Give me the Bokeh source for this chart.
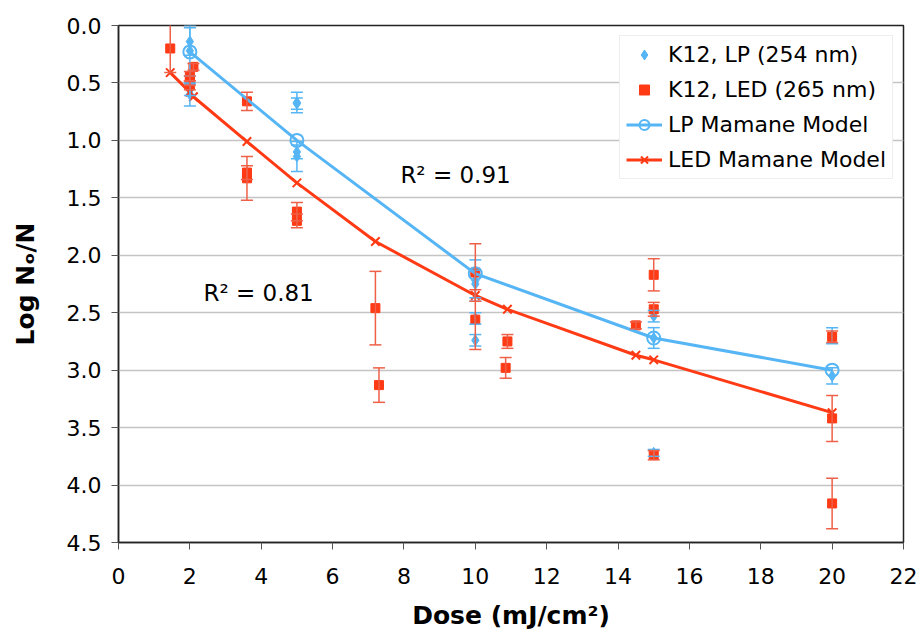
from bokeh.plotting import figure
from bokeh.models import (ColumnDataSource, Range1d, FixedTicker, NumeralTickFormatter,
                          Whisker, TeeHead, Legend, LegendItem)
from bokeh.core.properties import value
from bokeh.embed import file_html
from bokeh.resources import INLINE

# ---- data ----
lp_x = [2, 2, 2, 2, 5, 5, 5, 5, 10, 10, 10, 10, 15, 15, 15, 20, 20]
lp_y = [0.14, 0.22, 0.56, 0.60, 0.67, 0.68, 1.10, 1.14, 2.22, 2.25, 2.55, 2.74,
        2.53, 2.72, 3.72, 2.70, 3.05]
lp_err = [0.12, 0.22, 0.05, 0.10, 0.09, 0.05, 0.06, 0.13, 0.18, 0.12, 0.05, 0.05,
          0.05, 0.09, 0.03, 0.07, 0.07]

led_x = [1.45, 2.0, 2.0, 2.0, 2.1, 3.6, 3.6, 3.6, 5.0, 5.0, 7.2, 7.3, 10.0, 10.0,
         10.9, 10.85, 14.5, 15.0, 15.0, 15.0, 20.0, 20.0, 20.0]
led_y = [0.20, 0.44, 0.48, 0.52, 0.36, 0.66, 1.28, 1.33, 1.62, 1.70, 2.46, 3.13,
         2.15, 2.56, 2.75, 2.98, 2.61, 2.17, 2.47, 3.74, 2.71, 3.42, 4.16]
led_err = [0.21, 0.04, 0.04, 0.04, 0.03, 0.08, 0.06, 0.19, 0.08, 0.06, 0.32, 0.15,
           0.25, 0.26, 0.06, 0.09, 0.03, 0.14, 0.06, 0.04, 0.05, 0.20, 0.22]

lp_model_x = [2, 5, 10, 15, 20]
lp_model_y = [0.23, 1.00, 2.16, 2.72, 3.00]

led_model_x = [1.45, 2.0, 2.1, 3.6, 5.0, 7.2, 10.0, 10.9, 14.5, 15.0, 20.0]
led_model_y = [0.41, 0.58, 0.62, 1.01, 1.37, 1.88, 2.35, 2.47, 2.87, 2.91, 3.37]

x_ticks = list(range(0, 23, 2))
y_ticks = [0.0, 0.5, 1.0, 1.5, 2.0, 2.5, 3.0, 3.5, 4.0, 4.5]

r2_labels = ["R² = 0.91", "R² = 0.81"]
r2_x = [7.9, 2.38]
r2_y = [1.30, 2.33]

# ---- styles ----
BLUE = "#55B5F5"
RED = "#FF3A14"
RED_ERR = "#EE6048"
FONT = "DejaVu Sans"

p = figure(width=917, height=632, x_range=Range1d(0, 22), y_range=Range1d(4.5, 0),
           output_backend="svg", toolbar_location=None,
           min_border_left=118, min_border_right=14, min_border_top=25,
           min_border_bottom=89, background_fill_color="white",
           border_fill_color="white")

p.outline_line_color = "#222222"
p.outline_line_width = 1.5
p.xgrid.visible = False
p.ygrid.grid_line_color = "#C4C4C4"
p.ygrid.grid_line_width = 1.5

for ax in (p.xaxis[0], p.yaxis[0]):
    ax.axis_line_color = "#222222"
    ax.axis_line_width = 1.5
    ax.major_tick_line_color = "#555555"
    ax.major_tick_in = 0
    ax.major_tick_out = 7
    ax.minor_tick_line_color = None
    ax.major_label_text_font = FONT
    ax.major_label_text_font_size = "22px"
    ax.major_label_text_color = "black"
    ax.axis_label_text_font = FONT
    ax.axis_label_text_font_style = "bold"
    ax.axis_label_text_font_size = "25px"
    ax.axis_label_text_color = "black"

p.xaxis.ticker = FixedTicker(ticks=x_ticks)
p.yaxis.ticker = FixedTicker(ticks=y_ticks)
p.yaxis.formatter = NumeralTickFormatter(format="0.0")
p.xaxis.axis_label = "Dose (mJ/cm²)"
p.yaxis.axis_label = "Log Nₒ/N"
p.xaxis.major_label_standoff = 18
p.xaxis.axis_label_standoff = 14
p.yaxis.major_label_standoff = 10
p.yaxis.axis_label_standoff = 24

# error bars
lp_src = ColumnDataSource(dict(x=lp_x, y=lp_y,
                               upper=[a + b for a, b in zip(lp_y, lp_err)],
                               lower=[a - b for a, b in zip(lp_y, lp_err)]))
led_src = ColumnDataSource(dict(x=led_x, y=led_y,
                                upper=[a + b for a, b in zip(led_y, led_err)],
                                lower=[a - b for a, b in zip(led_y, led_err)]))

p.add_layout(Whisker(source=lp_src, base="x", upper="upper", lower="lower",
                     line_color=BLUE, line_width=1.5, level="glyph",
                     upper_head=TeeHead(size=12, line_color=BLUE, line_width=1.5),
                     lower_head=TeeHead(size=12, line_color=BLUE, line_width=1.5)))
lp_pts = p.scatter("x", "y", source=lp_src, marker="diamond", size=11,
                   fill_color=BLUE, line_color=BLUE)

p.add_layout(Whisker(source=led_src, base="x", upper="upper", lower="lower",
                     line_color=RED_ERR, line_width=1.5, level="glyph",
                     upper_head=TeeHead(size=12, line_color=RED_ERR, line_width=1.5),
                     lower_head=TeeHead(size=12, line_color=RED_ERR, line_width=1.5)))
led_pts = p.scatter("x", "y", source=led_src, marker="square", size=9,
                    fill_color=RED, line_color=RED)

lp_line = p.line(lp_model_x, lp_model_y, line_color=BLUE, line_width=3)
lp_mk = p.scatter(lp_model_x, lp_model_y, marker="circle", size=13,
                  fill_color=None, line_color=BLUE, line_width=2)
led_line = p.line(led_model_x, led_model_y, line_color=RED, line_width=3)
led_mk = p.scatter(led_model_x, led_model_y, marker="x", size=12,
                   line_color=RED, line_width=2)

p.text(r2_x, r2_y, text=r2_labels, text_font=value(FONT), text_font_size="23px",
       text_color="black", text_baseline="middle", text_align="left")

legend = Legend(items=[
    LegendItem(label="K12, LP (254 nm)", renderers=[lp_pts]),
    LegendItem(label="K12, LED (265 nm)", renderers=[led_pts]),
    LegendItem(label="LP Mamane Model", renderers=[lp_line, lp_mk]),
    LegendItem(label="LED Mamane Model", renderers=[led_line, led_mk]),
], location="top_right")
legend.margin = 10
legend.padding = 6
legend.spacing = 10
legend.glyph_width = 36
legend.glyph_height = 25
legend.label_height = 25
legend.label_standoff = 6
legend.label_text_font = FONT
legend.label_text_font_size = "22px"
legend.label_text_color = "black"
legend.border_line_color = "#DDDDDD"
legend.border_line_width = 1
legend.background_fill_color = "white"
legend.background_fill_alpha = 1.0
p.add_layout(legend)

open("out.html", "w").write(file_html(p, INLINE))
